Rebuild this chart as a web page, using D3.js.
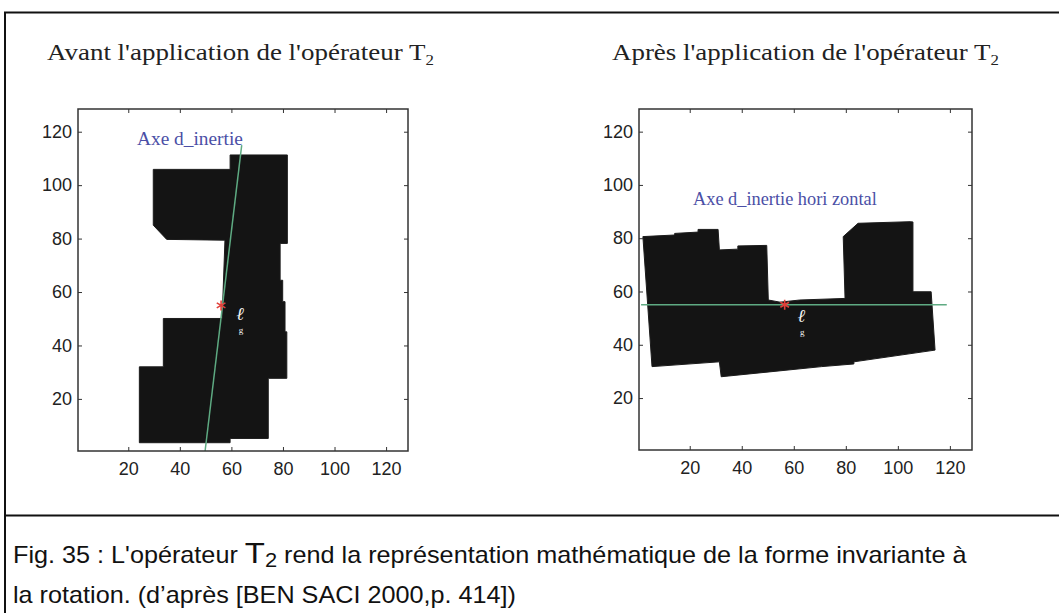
<!DOCTYPE html>
<html>
<head>
<meta charset="utf-8">
<script src="https://cdn.jsdelivr.net/npm/d3@7/dist/d3.min.js"></script>
<style>
  body { margin: 0; background: #fff; }
  svg { display: block; }
  .tick text { font-family: "Liberation Sans", Arial, sans-serif; font-size: 18px; fill: #222; }
  .tick line { stroke: #333; stroke-width: 1; }
</style>
</head>
<body>
<div id="chart"></div>
<script>
// image pixel grid is 128 x 128, axes run from 0.5 to 128.5
var axisTicks = [20, 40, 60, 80, 100, 120];

// shape before the operator (outline vertices, image coords)
var leftShapeX = [29.7, 59.5, 59.5, 81.7, 81.7, 78.9, 78.9, 79.9, 79.9, 80.8, 80.8, 81.5, 81.5, 74.3, 74.3, 59.5, 59.5, 24.3, 24.3, 33.6, 33.6, 56.4, 57.5, 34.9, 29.7];
var leftShapeY = [105.9, 105.9, 111.3, 111.3, 78.2, 78.2, 64.4, 64.4, 56.4, 56.4, 45.1, 45.1, 27.7, 27.7, 5.2, 5.2, 3.6, 3.6, 32.0, 32.0, 50.1, 50.1, 79.4, 79.7, 85.0];
var leftInertiaX = [49.8, 64.0];
var leftInertiaY = [0.5, 115.0];
var leftCentroid = [56.0, 55.0];
var leftGlyph = [63.3, 49.5];

// shape after the operator
var rightShapeX = [2.0, 14.2, 14.2, 23.2, 23.2, 30.9, 31.4, 38.5, 38.5, 49.6, 50.2, 54.7, 62.3, 79.7, 79.0, 84.7, 104.7, 105.8, 105.8, 112.8, 114.3, 83.1, 83.1, 70.7, 32.1, 31.4, 5.5];
var rightShapeY = [80.6, 81.2, 81.8, 82.3, 83.3, 83.3, 75.6, 75.9, 77.1, 77.3, 56.8, 56.0, 56.8, 57.4, 80.6, 85.6, 86.2, 86.1, 59.9, 59.9, 38.0, 33.6, 32.8, 31.8, 28.0, 33.6, 31.8];
var rightInertiaX = [1.3, 118.8];
var rightInertiaY = [55.0, 55.0];
var rightCentroid = [56.5, 55.0];
var rightGlyph = [62.9, 48.7];

var titles = ["Avant l'application de l'opérateur T", "Après l'application de l'opérateur T"];
var axisLabels = ["Axe d_inertie", "Axe d_inertie hori zontal"];
var caption1 = ["Fig. 35 : L'opérateur ", "T", "2", " rend la représentation mathématique de la forme invariante à"];
var caption2 = "la rotation. (d’après [BEN SACI 2000,p. 414])";

var W = 1059, H = 613;
var svg = d3.select("#chart").append("svg")
    .attr("width", W)
    .attr("height", H);

// outer frame
svg.append("line").attr("x1", 4).attr("x2", W).attr("y1", 12.5).attr("y2", 12.5)
    .attr("stroke", "#111").attr("stroke-width", 2);
svg.append("line").attr("x1", 5).attr("x2", 5).attr("y1", 12).attr("y2", H)
    .attr("stroke", "#111").attr("stroke-width", 2);
svg.append("line").attr("x1", 4).attr("x2", W).attr("y1", 515.5).attr("y2", 515.5)
    .attr("stroke", "#111").attr("stroke-width", 2);

function fitWidth(sel, x0, target) {
    var w = sel.node().getBBox().width;
    var k = target / w;
    sel.attr("transform", "translate(" + x0 + ",0) scale(" + k + ",1) translate(" + (-x0) + ",0)");
    return k;
}

function drawPanel(cfg) {
    var x = d3.scaleLinear().domain([0.5, 128.5]).range([cfg.left, cfg.right]);
    var y = d3.scaleLinear().domain([0.5, 128.5]).range([cfg.bottom, cfg.top]);
    var g = svg.append("g");

    var line = d3.line().x(function(d){ return x(d[0]); }).y(function(d){ return y(d[1]); });

    g.append("path")
        .datum(d3.zip(cfg.shapeX, cfg.shapeY))
        .attr("d", function(d){ return line(d) + "Z"; })
        .attr("fill", "#141414")
        .attr("stroke", "#1c1c1c")
        .attr("stroke-width", 1)
        .attr("stroke-linejoin", "round");

    // inertia axis
    g.append("path")
        .datum(d3.zip(cfg.inertiaX, cfg.inertiaY))
        .attr("d", line)
        .attr("fill", "none")
        .attr("stroke", "#5eaa82")
        .attr("stroke-width", 1.5);

    // centroid
    g.append("path")
        .attr("d", d3.symbol().type(d3.symbolAsterisk).size(70)())
        .attr("transform", "translate(" + x(cfg.centroid[0]) + "," + y(cfg.centroid[1]) + ")")
        .attr("fill", "none")
        .attr("stroke", "#e0403a")
        .attr("stroke-width", 1.6);

    // little white glyph under the centroid: a script l with a small g below it
    var gx = x(cfg.glyph[0]), gy = y(cfg.glyph[1]);
    g.append("text").text("ℓ")
        .attr("x", gx).attr("y", gy)
        .attr("text-anchor", "middle")
        .attr("font-family", "DejaVu Serif, serif")
        .attr("font-style", "italic")
        .attr("font-size", 18)
        .attr("fill", "#f4f4f4");
    g.append("text").text("g")
        .attr("x", gx + 1).attr("y", gy + 13)
        .attr("text-anchor", "middle")
        .attr("font-family", "Liberation Serif, serif")
        .attr("font-size", 9)
        .attr("fill", "#f4f4f4");

    // axis label
    var lab = g.append("text")
        .attr("x", cfg.labelX).attr("y", cfg.labelY)
        .attr("font-family", "Liberation Serif, serif")
        .attr("font-size", 18)
        .attr("fill", "#4b4fa6")
        .text(cfg.label);
    fitWidth(lab, cfg.labelX, cfg.labelW);

    // axes, ticks pointing inwards like matlab
    g.append("g")
        .attr("transform", "translate(0," + cfg.bottom + ")")
        .call(d3.axisBottom(x).tickValues(axisTicks).tickSize(-4).tickPadding(11))
        .call(function(a){ a.select(".domain").remove(); });
    g.append("g")
        .attr("transform", "translate(0," + cfg.top + ")")
        .call(d3.axisTop(x).tickValues(axisTicks).tickSize(-4).tickFormat(""))
        .call(function(a){ a.select(".domain").remove(); });
    g.append("g")
        .attr("transform", "translate(" + cfg.left + ",0)")
        .call(d3.axisLeft(y).tickValues(axisTicks).tickSize(-4).tickPadding(6))
        .call(function(a){ a.select(".domain").remove(); });
    g.append("g")
        .attr("transform", "translate(" + cfg.right + ",0)")
        .call(d3.axisRight(y).tickValues(axisTicks).tickSize(-4).tickFormat(""))
        .call(function(a){ a.select(".domain").remove(); });

    g.append("rect")
        .attr("x", cfg.left).attr("y", cfg.top)
        .attr("width", cfg.right - cfg.left)
        .attr("height", cfg.bottom - cfg.top)
        .attr("fill", "none")
        .attr("stroke", "#333")
        .attr("stroke-width", 1.5);

    // title with subscript
    var t = svg.append("text")
        .attr("x", cfg.titleX).attr("y", 60)
        .attr("font-family", "Liberation Serif, serif")
        .attr("font-size", 24)
        .attr("fill", "#222");
    t.append("tspan").text(cfg.title);
    t.append("tspan").text("2").attr("font-size", 15).attr("dy", 5);
    fitWidth(t, cfg.titleX, 387);
}

drawPanel({
    left: 78, right: 408, top: 109, bottom: 451,
    shapeX: leftShapeX, shapeY: leftShapeY,
    inertiaX: leftInertiaX, inertiaY: leftInertiaY,
    centroid: leftCentroid, glyph: leftGlyph,
    label: axisLabels[0], labelX: 137, labelY: 145, labelW: 106,
    title: titles[0], titleX: 47
});

drawPanel({
    left: 639, right: 972, top: 109, bottom: 450,
    shapeX: rightShapeX, shapeY: rightShapeY,
    inertiaX: rightInertiaX, inertiaY: rightInertiaY,
    centroid: rightCentroid, glyph: rightGlyph,
    label: axisLabels[1], labelX: 693, labelY: 205, labelW: 184,
    title: titles[1], titleX: 612
});

// caption (the original type is a narrow, tall sans)
var cap = svg.append("g")
    .attr("font-family", "Liberation Sans, Arial, sans-serif")
    .attr("font-size", 23)
    .attr("fill", "#111");
var c1 = cap.append("text").attr("x", 13).attr("y", 563);
c1.append("tspan").text(caption1[0]);
c1.append("tspan").text(caption1[1]).attr("font-size", 30);
c1.append("tspan").text(caption1[2]).attr("font-size", 20).attr("dy", 4);
c1.append("tspan").text(caption1[3]).attr("dy", -4);
var k = fitWidth(c1, 13, 954);
var c2 = cap.append("text").attr("x", 13).attr("y", 603).text(caption2);
c2.attr("transform", "translate(13,0) scale(" + k + ",1) translate(-13,0)");
</script>
</body>
</html>
